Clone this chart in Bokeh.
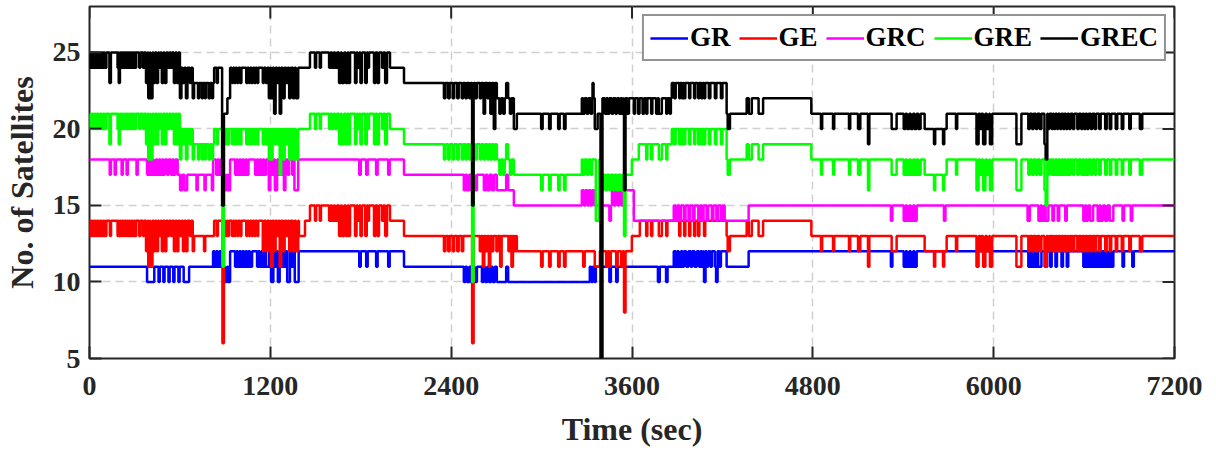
import math
from bokeh.plotting import figure
from bokeh.models import Range1d, FixedTicker
from bokeh.embed import file_html
from bokeh.resources import INLINE

# ---------------- data ----------------
X_TICKS = [0, 1200, 2400, 3600, 4800, 6000, 7200]
Y_TICKS = [5, 10, 15, 20, 25]
X_MIN, X_MAX = 0, 7200
Y_MIN, Y_MAX = 5, 28
T_END = 7200

SERIES = ["GR", "GE", "GRC", "GRE", "GREC"]
COLORS = ["#0000ff", "#ff0000", "#ff00ff", "#00ff00", "#000000"]

# base levels: (time from which the level holds, satellites)
GR_BASE = [(0, 11), (820, 12), (2087, 11), (2703, 10), (3387, 11), (3877, 12), (4228, 11), (4374, 12)]
# short excursions: (start, end, satellites)
GR_DIPS = [
    (382, 430, 10), (458, 466, 10), (490, 498, 10), (524, 532, 10), (556, 564, 10), (590, 598, 10), (625, 661, 10),
    (830, 840, 11), (852, 862, 11), (872, 880, 11), (886, 898, 11), (898, 912, 10), (912, 920, 11), (920, 933, 10),
    (966, 975, 11), (985, 995, 11), (1005, 1015, 11), (1025, 1035, 11), (1045, 1055, 11), (1065, 1079, 11),
    (1112, 1120, 11), (1130, 1140, 11), (1150, 1160, 11), (1170, 1191, 11),
    (1205, 1220, 10), (1230, 1240, 11), (1250, 1262, 10), (1272, 1282, 11), (1292, 1302, 11), (1312, 1330, 10),
    (1342, 1352, 11), (1362, 1388, 10),
    (1790, 1800, 11), (1836, 1846, 11), (1902, 1912, 11), (1982, 1992, 11),
    (2484, 2495, 10), (2505, 2520, 10), (2530, 2545, 10), (2555, 2571, 10), (2604, 2615, 10), (2625, 2640, 10),
    (2650, 2665, 10), (2675, 2690, 10), (2765, 2778, 11),
    (3320, 3330, 11), (3340, 3350, 11), (3360, 3387, 11), (3450, 3460, 10), (3495, 3505, 10),
    (3772, 3784, 10), (3826, 3836, 10),
    (3890, 3900, 11), (3910, 3925, 11), (3935, 3945, 11), (3960, 3975, 11), (3990, 4000, 11), (4015, 4030, 11),
    (4045, 4055, 11), (4065, 4075, 11), (4078, 4088, 10), (4095, 4105, 11), (4120, 4130, 11), (4150, 4158, 11),
    (4158, 4168, 10), (4180, 4190, 11),
    (5318, 5328, 11), (5403, 5415, 11), (5425, 5440, 11), (5450, 5465, 11), (5475, 5489, 11),
    (6230, 6240, 11), (6250, 6262, 11), (6270, 6285, 11), (6295, 6317, 11), (6345, 6355, 11), (6375, 6385, 11),
    (6410, 6420, 11), (6450, 6460, 11), (6485, 6495, 11),
    (6595, 6605, 11), (6615, 6630, 11), (6640, 6650, 11), (6660, 6675, 11), (6685, 6700, 11), (6710, 6720, 11),
    (6730, 6745, 11), (6755, 6770, 11), (6780, 6794, 11), (6855, 6865, 11), (6920, 6930, 11),
]

GE_BASE = [(0, 14), (694, 13), (827, 14), (1390, 13), (1430, 14), (1463, 15), (1994, 14), (2087, 13), (2836, 12),
           (3599, 13), (3652, 14), (4228, 13), (4361, 14), (4790, 13), (5542, 12), (5688, 13)]
GE_DIPS = [
    (4, 10, 13), (14, 20, 13), (24, 30, 13), (34, 40, 13), (44, 50, 13), (54, 60, 13), (64, 70, 13), (74, 80, 13),
    (84, 90, 13), (94, 100, 13), (104, 112, 13), (135, 143, 13),
    (186, 192, 13), (196, 202, 13), (208, 214, 13), (220, 226, 13), (232, 238, 13), (244, 250, 13), (256, 262, 13),
    (268, 274, 13), (280, 286, 13), (292, 298, 13), (304, 310, 13), (330, 338, 13), (355, 362, 13),
    (375, 385, 12), (390, 400, 11), (405, 418, 11), (425, 435, 12), (445, 455, 12), (462, 472, 13), (480, 490, 12),
    (500, 510, 12), (520, 528, 13), (540, 548, 13), (560, 570, 12), (580, 590, 12), (600, 610, 13), (620, 630, 12),
    (640, 650, 12), (665, 675, 13), (685, 694, 12),
    (760, 768, 12), (845, 852, 13), (882, 892, 6), (900, 910, 13), (918, 926, 13),
    (945, 953, 13), (962, 970, 13), (980, 988, 13), (1000, 1008, 13), (1040, 1048, 13), (1058, 1066, 13),
    (1076, 1084, 13), (1094, 1102, 13), (1112, 1120, 13), (1150, 1158, 12), (1170, 1180, 12),
    (1190, 1200, 12), (1205, 1215, 11), (1225, 1235, 12), (1245, 1255, 13), (1262, 1272, 11), (1285, 1295, 12),
    (1305, 1315, 13), (1325, 1335, 12), (1350, 1360, 12), (1370, 1385, 12),
    (1496, 1504, 14), (1528, 1536, 14), (1590, 1600, 14), (1610, 1620, 14), (1630, 1642, 14), (1656, 1668, 13),
    (1675, 1690, 13), (1700, 1712, 13), (1720, 1729, 13), (1762, 1772, 13), (1780, 1790, 14), (1798, 1808, 13),
    (1830, 1840, 13), (1848, 1855, 14), (1888, 1898, 13), (1910, 1921, 13), (1941, 1950, 14), (1962, 1974, 13),
    (2352, 2362, 12), (2380, 2390, 12), (2410, 2420, 12), (2440, 2450, 12), (2470, 2480, 12),
    (2539, 2549, 6),
    (2590, 2600, 12), (2610, 2620, 11), (2630, 2640, 12), (2650, 2660, 11), (2670, 2680, 12), (2700, 2710, 12),
    (2725, 2735, 11), (2780, 2790, 12), (2800, 2810, 11), (2820, 2830, 12),
    (2997, 3007, 11), (3050, 3060, 11), (3110, 3120, 11), (3149, 3159, 11), (3276, 3286, 11),
    (3353, 3387, 11), (3428, 3438, 11), (3449, 3459, 11), (3495, 3505, 11), (3528, 3538, 11), (3547, 3557, 8),
    (3694, 3702, 13), (3727, 3735, 13), (3778, 3798, 13), (3827, 3835, 13), (3913, 3921, 13), (3946, 3954, 13),
    (3979, 3987, 13), (4012, 4020, 13), (4039, 4047, 13), (4078, 4086, 13),
    (4235, 4250, 12), (4375, 4395, 13), (4440, 4470, 13),
    (4854, 4862, 12), (4934, 4942, 12), (5040, 5048, 12), (5100, 5115, 12), (5166, 5175, 11), (5323, 5356, 12),
    (5604, 5612, 11), (5664, 5672, 11), (5750, 5758, 12),
    (5886, 5900, 11), (5910, 5920, 12), (5930, 5945, 11), (5955, 5970, 12), (5975, 5990, 11),
    (6151, 6184, 11), (6230, 6240, 12), (6255, 6265, 12), (6280, 6290, 12), (6305, 6317, 12),
    (6337, 6352, 11), (6360, 6370, 12), (6385, 6392, 12), (6400, 6410, 12), (6420, 6428, 12), (6440, 6450, 12),
    (6462, 6470, 12), (6480, 6490, 12), (6500, 6510, 12), (6525, 6535, 12), (6555, 6565, 12), (6580, 6590, 12),
    (6600, 6610, 12), (6620, 6630, 12), (6645, 6655, 12), (6670, 6680, 12), (6700, 6710, 12), (6740, 6750, 12),
    (6770, 6780, 12), (6810, 6820, 12), (6850, 6860, 12), (6900, 6910, 12), (6970, 6986, 12),
]

GRC_BASE = [(0, 18), (601, 17), (820, 18), (2087, 17), (2703, 16), (2816, 15), (3546, 16), (3612, 14),
            (3877, 15), (4215, 14), (4374, 15)]
GRC_DIPS = [
    (134, 142, 17), (167, 175, 17), (213, 221, 17), (246, 254, 17), (312, 320, 17),
    (382, 395, 17), (405, 415, 17), (425, 440, 17), (450, 460, 17), (470, 480, 17), (490, 500, 17), (515, 525, 17),
    (540, 550, 17), (560, 570, 17), (585, 601, 17),
    (601, 615, 16), (630, 648, 16), (710, 718, 16), (763, 771, 16), (812, 820, 16),
    (840, 850, 17), (860, 870, 17), (886, 900, 17), (900, 912, 16), (912, 920, 17), (920, 933, 16),
    (966, 975, 17), (985, 995, 17), (1005, 1015, 17), (1025, 1035, 17), (1045, 1055, 17), (1099, 1110, 17),
    (1120, 1130, 17), (1140, 1150, 17), (1160, 1172, 17),
    (1190, 1200, 16), (1210, 1220, 17), (1230, 1245, 16), (1255, 1265, 17), (1270, 1280, 17), (1290, 1300, 16),
    (1315, 1325, 17), (1345, 1355, 17), (1360, 1385, 16),
    (1790, 1800, 17), (1836, 1846, 17), (1902, 1912, 17), (1982, 1992, 17),
    (2484, 2495, 16), (2505, 2520, 16), (2530, 2545, 16), (2555, 2571, 16), (2617, 2630, 16), (2640, 2655, 16),
    (2670, 2685, 16), (2765, 2778, 17),
    (3267, 3280, 16), (3290, 3305, 16), (3315, 3325, 16), (3335, 3350, 16), (3450, 3460, 14), (3467, 3480, 16),
    (3490, 3505, 16), (3515, 3530, 16),
    (3890, 3900, 14), (3915, 3925, 14), (3945, 3955, 14), (3975, 3985, 14), (4005, 4015, 14), (4040, 4050, 14),
    (4065, 4075, 14), (4095, 4105, 14), (4130, 4140, 14), (4160, 4170, 14), (4190, 4200, 14),
    (5318, 5328, 14), (5403, 5415, 14), (5425, 5440, 14), (5450, 5465, 14), (5475, 5489, 14), (5670, 5680, 14),
    (6225, 6240, 14), (6297, 6310, 14), (6320, 6335, 14), (6345, 6363, 14), (6390, 6400, 14), (6425, 6435, 14),
    (6475, 6485, 14), (6595, 6605, 14), (6615, 6625, 14), (6640, 6660, 14), (6690, 6700, 14), (6710, 6725, 14),
    (6740, 6755, 14), (6770, 6794, 14), (6855, 6865, 14), (6910, 6920, 14),
]

GRE_BASE = [(0, 21), (601, 20), (694, 19), (827, 20), (1463, 21), (1994, 20), (2087, 19), (2703, 18), (2836, 17),
            (3267, 18), (3387, 17), (3599, 18), (3645, 19), (3864, 20), (4228, 18), (4361, 19), (4790, 18),
            (5542, 17), (5688, 18)]
GRE_DIPS = [
    (4, 10, 20), (14, 20, 20), (24, 30, 20), (34, 40, 20), (44, 50, 20), (54, 60, 20), (64, 70, 20), (74, 80, 20),
    (84, 90, 20), (94, 100, 20), (104, 112, 20), (132, 142, 19),
    (186, 192, 20), (194, 202, 19), (208, 214, 20), (220, 226, 20), (232, 238, 20), (244, 250, 20), (256, 262, 20),
    (268, 274, 20), (280, 286, 20), (292, 298, 20), (304, 310, 20), (330, 338, 20), (355, 362, 20),
    (375, 385, 19), (390, 400, 18), (405, 418, 18), (425, 435, 19), (445, 455, 19), (462, 472, 20), (480, 490, 19),
    (500, 510, 19), (520, 528, 20), (540, 548, 20), (560, 570, 19), (580, 590, 19), (600, 610, 18), (620, 630, 19),
    (640, 650, 18), (665, 675, 19), (685, 694, 18),
    (720, 728, 18), (745, 752, 18), (765, 772, 18), (790, 800, 18), (812, 820, 18),
    (845, 852, 19), (882, 892, 11), (900, 910, 19), (918, 926, 19),
    (945, 953, 19), (962, 970, 19), (980, 988, 19), (1000, 1008, 19), (1040, 1048, 19), (1058, 1066, 19),
    (1076, 1084, 19), (1094, 1102, 19), (1112, 1120, 19), (1150, 1158, 19), (1170, 1180, 19),
    (1190, 1200, 18), (1205, 1215, 18), (1225, 1235, 19), (1245, 1255, 19), (1262, 1272, 17), (1285, 1295, 18),
    (1305, 1315, 19), (1325, 1335, 18), (1350, 1360, 18), (1370, 1385, 18),
    (1496, 1504, 20), (1528, 1536, 20), (1590, 1600, 20), (1610, 1620, 20), (1630, 1642, 20), (1656, 1668, 19),
    (1675, 1690, 19), (1700, 1712, 19), (1720, 1729, 19), (1762, 1772, 19), (1780, 1790, 20), (1798, 1808, 19),
    (1830, 1840, 19), (1848, 1855, 20), (1888, 1898, 19), (1910, 1921, 19), (1941, 1950, 20), (1962, 1974, 19),
    (2352, 2362, 18), (2380, 2390, 18), (2410, 2420, 18), (2440, 2450, 18), (2470, 2480, 18),
    (2495, 2505, 18), (2520, 2530, 18), (2539, 2549, 10), (2560, 2570, 18), (2590, 2600, 18), (2615, 2625, 18),
    (2640, 2650, 18), (2660, 2670, 18), (2683, 2693, 18),
    (2720, 2730, 17), (2745, 2755, 17), (2765, 2778, 19), (2790, 2800, 17), (2816, 2836, 17),
    (2997, 3007, 16), (3050, 3060, 16), (3110, 3120, 16), (3149, 3159, 16), (3276, 3286, 17), (3300, 3310, 17),
    (3325, 3335, 17), (3360, 3382, 14),
    (3400, 3410, 16), (3425, 3435, 16), (3450, 3460, 16), (3475, 3485, 16), (3500, 3510, 16), (3525, 3535, 16),
    (3547, 3557, 13),
    (3694, 3702, 18), (3727, 3735, 18), (3778, 3798, 18), (3827, 3835, 18),
    (3880, 3890, 19), (3913, 3921, 19), (3930, 3940, 19), (3946, 3954, 19), (3979, 3987, 19), (4012, 4020, 19),
    (4039, 4047, 19), (4060, 4070, 19), (4078, 4086, 19), (4110, 4120, 19), (4150, 4160, 19), (4190, 4200, 19),
    (4235, 4250, 17), (4375, 4395, 18), (4440, 4470, 18),
    (4854, 4862, 17), (4934, 4942, 17), (5040, 5048, 17), (5100, 5115, 17), (5166, 5175, 16), (5323, 5356, 17),
    (5403, 5415, 17), (5425, 5440, 17), (5450, 5465, 17), (5475, 5489, 17), (5500, 5515, 17),
    (5604, 5612, 16), (5664, 5672, 16), (5750, 5758, 17),
    (5886, 5900, 16), (5910, 5920, 17), (5930, 5945, 16), (5955, 5970, 17), (5975, 5990, 16),
    (6151, 6184, 16), (6230, 6240, 17), (6255, 6265, 17), (6280, 6290, 17), (6305, 6317, 17),
    (6337, 6345, 16), (6345, 6356, 15), (6360, 6370, 17), (6385, 6392, 17), (6400, 6410, 17), (6420, 6428, 17),
    (6440, 6450, 17), (6462, 6470, 17), (6480, 6490, 17), (6500, 6510, 17), (6525, 6535, 17), (6555, 6565, 17),
    (6580, 6590, 17), (6600, 6610, 17), (6620, 6630, 17), (6645, 6655, 17), (6670, 6680, 17), (6700, 6710, 17),
    (6740, 6750, 17), (6770, 6780, 17), (6810, 6820, 17), (6850, 6860, 17), (6900, 6910, 17), (6970, 6986, 17),
]

GREC_BASE = [(0, 25), (601, 24), (694, 23), (827, 24), (1463, 25), (1994, 24), (2087, 23), (2703, 22), (2836, 21),
             (3267, 22), (3864, 23), (4228, 21), (4361, 22), (4790, 21), (5542, 20), (5688, 21)]
GREC_DIPS = [
    (4, 10, 24), (14, 20, 24), (24, 30, 24), (34, 40, 24), (44, 50, 24), (54, 60, 24), (64, 70, 24), (74, 80, 24),
    (84, 90, 24), (94, 100, 24), (104, 112, 24), (132, 142, 23),
    (186, 192, 24), (194, 202, 23), (208, 214, 24), (220, 226, 24), (232, 238, 24), (244, 250, 24), (256, 262, 24),
    (268, 274, 24), (280, 286, 24), (292, 298, 24), (304, 310, 24), (330, 338, 24), (355, 362, 24),
    (375, 385, 23), (390, 400, 22), (405, 418, 22), (425, 435, 23), (445, 455, 23), (462, 472, 24), (480, 490, 23),
    (500, 510, 23), (520, 528, 24), (540, 548, 24), (560, 570, 23), (580, 590, 23), (600, 610, 22), (620, 630, 23),
    (640, 650, 22), (665, 675, 23), (685, 694, 22),
    (720, 728, 22), (745, 752, 22), (765, 772, 22), (790, 800, 22), (812, 820, 22),
    (845, 852, 23), (880, 892, 15), (892, 915, 21), (915, 933, 22),
    (945, 953, 23), (962, 970, 23), (980, 988, 23), (1000, 1008, 23), (1040, 1048, 23), (1058, 1066, 23),
    (1076, 1084, 23), (1094, 1102, 23), (1112, 1120, 23), (1150, 1158, 23), (1170, 1180, 23),
    (1190, 1200, 22), (1205, 1215, 22), (1225, 1235, 21), (1245, 1255, 23), (1262, 1272, 21), (1285, 1295, 22),
    (1305, 1315, 23), (1325, 1335, 22), (1350, 1360, 22), (1370, 1385, 22),
    (1496, 1504, 24), (1528, 1536, 24), (1590, 1600, 24), (1610, 1620, 24), (1630, 1642, 24), (1656, 1668, 23),
    (1675, 1690, 23), (1700, 1712, 23), (1720, 1729, 23), (1762, 1772, 23), (1780, 1790, 24), (1798, 1808, 23),
    (1830, 1840, 23), (1848, 1855, 24), (1888, 1898, 23), (1910, 1921, 23), (1941, 1950, 24), (1962, 1974, 23),
    (2352, 2362, 22), (2380, 2390, 22), (2410, 2420, 22), (2440, 2450, 22), (2470, 2480, 22),
    (2495, 2505, 22), (2520, 2530, 22), (2539, 2549, 15), (2560, 2570, 22), (2590, 2600, 22), (2615, 2625, 21),
    (2640, 2650, 22), (2660, 2670, 21), (2683, 2693, 20),
    (2720, 2730, 21), (2745, 2755, 21), (2765, 2778, 23), (2790, 2800, 21), (2816, 2836, 20),
    (2997, 3007, 20), (3050, 3060, 20), (3110, 3120, 20), (3149, 3159, 20), (3276, 3286, 21), (3300, 3310, 21),
    (3325, 3335, 21), (3338, 3345, 23), (3353, 3372, 20), (3372, 3391, 21), (3391, 3404, 5),
    (3420, 3430, 21), (3440, 3450, 21), (3465, 3475, 21), (3490, 3500, 21), (3515, 3525, 21), (3535, 3545, 21),
    (3547, 3557, 16), (3570, 3580, 21),
    (3612, 3620, 21), (3640, 3650, 21), (3670, 3680, 21), (3694, 3702, 21), (3727, 3735, 21), (3760, 3770, 21),
    (3778, 3798, 21), (3827, 3835, 21), (3850, 3858, 21),
    (3880, 3890, 22), (3913, 3921, 22), (3930, 3940, 22), (3946, 3954, 22), (3979, 3987, 22), (4012, 4020, 22),
    (4039, 4047, 22), (4060, 4070, 22), (4078, 4086, 22), (4110, 4120, 22), (4150, 4160, 22), (4190, 4200, 22),
    (4235, 4250, 20), (4375, 4395, 21), (4440, 4470, 21),
    (4854, 4862, 20), (4934, 4942, 20), (5040, 5048, 20), (5100, 5115, 20), (5166, 5175, 19), (5323, 5356, 20),
    (5403, 5415, 20), (5425, 5440, 20), (5450, 5465, 20), (5475, 5489, 20), (5500, 5515, 20),
    (5604, 5612, 19), (5664, 5672, 19), (5750, 5758, 20),
    (5886, 5900, 19), (5910, 5920, 20), (5930, 5945, 19), (5955, 5970, 20), (5975, 5990, 19),
    (6151, 6184, 19), (6230, 6240, 20), (6255, 6265, 20), (6280, 6290, 20), (6305, 6317, 20),
    (6337, 6345, 19), (6345, 6356, 18), (6360, 6370, 20), (6385, 6392, 20), (6400, 6410, 20), (6420, 6428, 20),
    (6440, 6450, 20), (6462, 6470, 20), (6480, 6490, 20), (6500, 6510, 20), (6525, 6535, 20), (6555, 6565, 20),
    (6580, 6590, 20), (6600, 6610, 20), (6620, 6630, 20), (6645, 6655, 20), (6670, 6680, 20), (6700, 6710, 20),
    (6740, 6750, 20), (6770, 6780, 20), (6810, 6820, 20), (6850, 6860, 20), (6900, 6910, 20), (6970, 6986, 20),
]

BASES = [GR_BASE, GE_BASE, GRC_BASE, GRE_BASE, GREC_BASE]
DIPS = [GR_DIPS, GE_DIPS, GRC_DIPS, GRE_DIPS, GREC_DIPS]


def build_steps(base, dips):
    """Turn base levels + excursions into step breakpoints."""
    times = sorted(set([t for t, _ in base] + [a for a, _, _ in dips] + [b for _, b, _ in dips] + [T_END]))

    def level(t):
        for a, b, v in dips:
            if a <= t < b:
                return v
        cur = base[0][1]
        for bt, bv in base:
            if bt <= t:
                cur = bv
        return cur

    return times, [level(t) for t in times]


FONT = "Liberation Serif"
DARK = "#262626"

p = figure(width=1216, height=453, x_range=Range1d(X_MIN, X_MAX), y_range=Range1d(Y_MIN, Y_MAX),
           output_backend="svg", toolbar_location=None,
           min_border_left=88, min_border_right=42, min_border_top=6, min_border_bottom=95)
p.background_fill_color = "white"
p.border_fill_color = "white"
p.outline_line_color = DARK
p.outline_line_width = 2

# grid
p.xgrid[0].ticker = FixedTicker(ticks=X_TICKS)
p.ygrid[0].ticker = FixedTicker(ticks=Y_TICKS)
for g in (p.xgrid[0], p.ygrid[0]):
    g.grid_line_color = "#d0d0d0"
    g.grid_line_dash = "8 5"
    g.grid_line_width = 1.5

for name, color, base, dips in zip(SERIES, COLORS, BASES, DIPS):
    xs, ys = build_steps(base, dips)
    p.step(xs, ys, mode="after", line_color=color, line_width=2.5, legend_label=name)

# axes
for ax in (p.xaxis[0], p.yaxis[0]):
    ax.axis_line_color = None
    ax.major_tick_in = 12
    ax.major_tick_out = 0
    ax.minor_tick_line_color = None
    ax.major_tick_line_color = DARK
    ax.major_tick_line_width = 2
    ax.major_label_text_font = FONT
    ax.major_label_text_font_style = "bold"
    ax.major_label_text_font_size = "28px"
    ax.major_label_text_color = DARK
    ax.axis_label_text_font = FONT
    ax.axis_label_text_font_style = "bold"
    ax.axis_label_text_font_size = "32px"
    ax.axis_label_text_color = DARK

p.xaxis.ticker = FixedTicker(ticks=X_TICKS)
p.yaxis.ticker = FixedTicker(ticks=Y_TICKS)
p.xaxis.axis_label = "Time (sec)"
p.yaxis.axis_label = "No. of Satellites"
p.xaxis.major_label_standoff = 18
p.xaxis.axis_label_standoff = 13
p.yaxis.major_label_standoff = 9
p.yaxis.axis_label_standoff = 10

# mirrored inner ticks on the top and right edges of the frame
p.ray(x=X_TICKS, y=[Y_MAX] * len(X_TICKS), length=12, length_units="screen",
      angle=-math.pi / 2, line_color=DARK, line_width=2)
p.ray(x=[X_MAX] * len(Y_TICKS), y=Y_TICKS, length=12, length_units="screen",
      angle=math.pi, line_color=DARK, line_width=2)

# legend
lg = p.legend[0]
lg.orientation = "horizontal"
lg.location = "top_right"
lg.margin = 8
lg.padding = 6
lg.spacing = 8
lg.glyph_width = 38
lg.glyph_height = 24
lg.label_standoff = 2
lg.label_text_font = FONT
lg.label_text_font_style = "bold"
lg.label_text_font_size = "27px"
lg.label_text_color = "black"
lg.border_line_color = DARK
lg.border_line_width = 2
lg.background_fill_alpha = 1.0

open("out.html", "w").write(file_html(p, INLINE))
